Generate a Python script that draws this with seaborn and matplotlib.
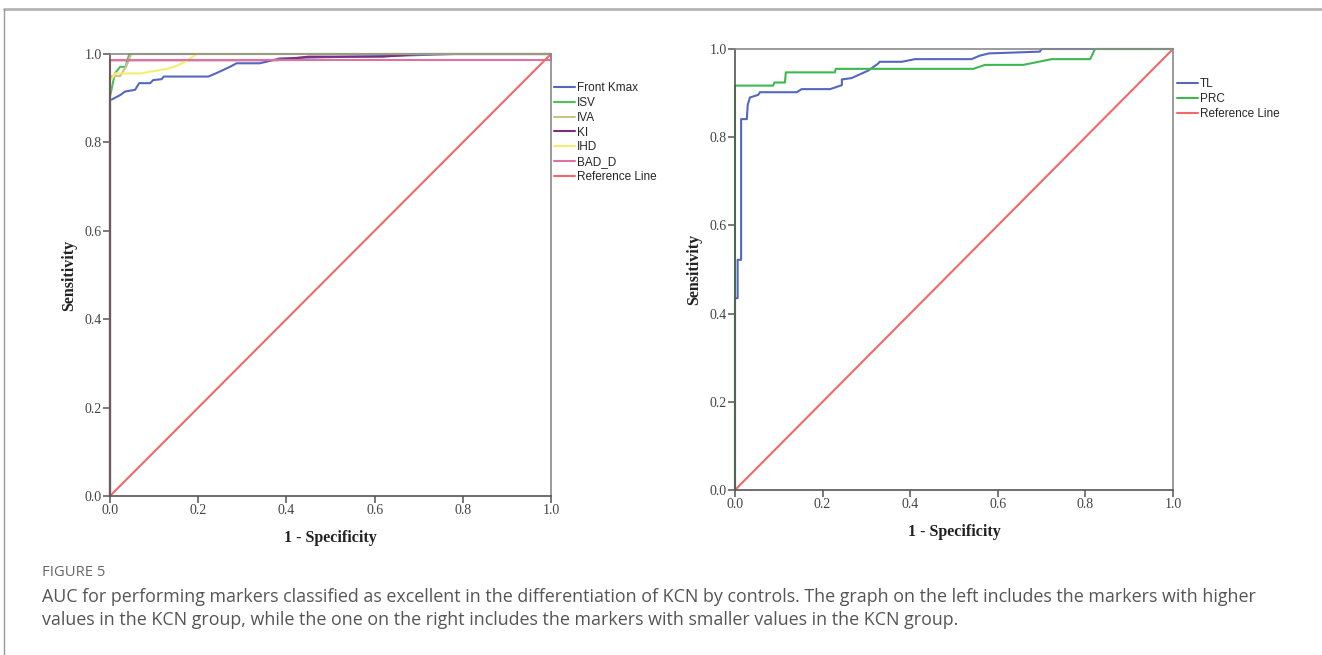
import matplotlib
matplotlib.use("Agg")
import matplotlib.pyplot as plt
from matplotlib.lines import Line2D
import seaborn as sns
import pandas as pd

# ---------------- data ----------------
# Left panel
fk_x = [0, 0, 0.004, 0.023, 0.034, 0.057, 0.066, 0.091, 0.098, 0.117, 0.122, 0.223, 0.242, 0.257, 0.272,
        0.287, 0.340, 0.385, 0.45, 0.55, 0.65, 0.78, 1.0]
fk_y = [0, 0.897, 0.897, 0.907, 0.915, 0.919, 0.934, 0.934, 0.941, 0.943, 0.949, 0.949, 0.957, 0.964, 0.971,
        0.979, 0.979, 0.990, 0.992, 0.994, 0.996, 1.0, 1.0]
isv_x = [0, 0, 0.011, 0.023, 0.036, 0.038, 0.044, 1.0]
isv_y = [0, 0.903, 0.956, 0.971, 0.971, 0.982, 1.0, 1.0]
iva_x = [0, 0, 0.004, 0.023, 0.036, 0.041, 0.048, 1.0]
iva_y = [0, 0.946, 0.950, 0.950, 0.971, 0.982, 1.0, 1.0]
ki_x = [0, 0, 0.38, 0.45, 0.62, 0.70, 1.0]
ki_y = [0, 0.986, 0.986, 0.994, 0.994, 1.0, 1.0]
ihd_x = [0, 0, 0.004, 0.011, 0.068, 0.091, 0.128, 0.151, 0.170, 0.185, 0.197, 1.0]
ihd_y = [0, 0.943, 0.943, 0.956, 0.956, 0.960, 0.966, 0.973, 0.982, 0.992, 1.0, 1.0]
bad_x = [0, 0, 1.0, 1.0]
bad_y = [0, 0.986, 0.986, 1.0]

# Right panel
tl_x = [0, 0, 0.006, 0.006, 0.014, 0.014, 0.027, 0.029, 0.034, 0.053, 0.057, 0.141, 0.152, 0.217, 0.244,
        0.244, 0.266, 0.304, 0.327, 0.330, 0.381, 0.411, 0.540, 0.559, 0.58, 0.696, 0.70, 1.0]
tl_y = [0, 0.435, 0.435, 0.522, 0.522, 0.841, 0.841, 0.873, 0.890, 0.896, 0.902, 0.902, 0.909, 0.909, 0.918,
        0.931, 0.934, 0.951, 0.967, 0.971, 0.971, 0.977, 0.977, 0.985, 0.990, 0.994, 1.0, 1.0]
prc_x = [0, 0, 0.087, 0.090, 0.114, 0.116, 0.228, 0.230, 0.544, 0.571, 0.658, 0.723, 0.811, 0.822, 1.0]
prc_y = [0, 0.917, 0.917, 0.924, 0.924, 0.947, 0.947, 0.955, 0.955, 0.964, 0.964, 0.977, 0.977, 1.0, 1.0]

ref_x = [0, 1]
ref_y = [0, 1]

left_labels = ["Front Kmax", "ISV", "IVA", "KI", "IHD", "BAD_D", "Reference Line"]
right_labels = ["TL", "PRC", "Reference Line"]
ticks = [0.0, 0.2, 0.4, 0.6, 0.8, 1.0]
tick_labels = ["0.0", "0.2", "0.4", "0.6", "0.8", "1.0"]

caption_head = "FIGURE 5"
caption_lines = [
    "AUC for performing markers classified as excellent in the differentiation of KCN by controls. The graph on the left includes the markers with higher",
    "values in the KCN group, while the one on the right includes the markers with smaller values in the KCN group.",
]

# ---------------- style ----------------
sns.set_style("white")
plt.rcParams["font.family"] = ["Liberation Sans", "DejaVu Sans"]

C_BLUE = "#5368BE"
C_GREEN = "#4CC25A"
C_IVA = "#C9C28E"
C_KI = "#7A2F7E"
C_IHD = "#F3EE70"
C_BAD = "#E0709E"
C_REF = "#F26868"

fig = plt.figure(figsize=(13.22, 6.55), dpi=100)
W, H = 1322, 655


def fx(px):
    return px / W


def fy(py):
    return 1 - py / H


axL = fig.add_axes([fx(110), fy(496), fx(551) - fx(110), fy(54) - fy(496)])
axR = fig.add_axes([fx(735), fy(490), fx(1173) - fx(735), fy(49) - fy(490)])


def draw(ax, x, y, color, label):
    df = pd.DataFrame({"x": x, "y": y})
    sns.lineplot(data=df, x="x", y="y", ax=ax, color=color, sort=False, estimator=None,
                 linewidth=1.5, clip_on=False, label=label, legend=False)


left_series = [(fk_x, fk_y, C_BLUE), (isv_x, isv_y, C_GREEN), (iva_x, iva_y, C_IVA),
               (ki_x, ki_y, C_KI), (ihd_x, ihd_y, C_IHD), (bad_x, bad_y, C_BAD), (ref_x, ref_y, C_REF)]
for (x, y, c), lab in zip(left_series, left_labels):
    draw(axL, x, y, c, lab)

right_series = [(tl_x, tl_y, C_BLUE), (prc_x, prc_y, "#3DB850"), (ref_x, ref_y, C_REF)]
for (x, y, c), lab in zip(right_series, right_labels):
    draw(axR, x, y, c, lab)

for ax in (axL, axR):
    ax.set_xlim(0, 1)
    ax.set_ylim(0, 1)
    ax.set_xticks(ticks)
    ax.set_xticklabels(tick_labels)
    ax.set_yticks(ticks)
    ax.set_yticklabels(tick_labels)
    for s in ("left", "bottom"):
        ax.spines[s].set_color("#555555")
        ax.spines[s].set_linewidth(1.2)
    for s in ("top", "right"):
        ax.spines[s].set_color("#8a8a8a")
        ax.spines[s].set_linewidth(1.2)
    ax.tick_params(axis="both", direction="out", length=5, width=1.1, color="#555555",
                   labelsize=10, labelcolor="#444444", pad=1, left=True, bottom=True)
    for lab in ax.get_xticklabels() + ax.get_yticklabels():
        lab.set_family(["Liberation Serif", "DejaVu Serif"])
    ax.set_xlabel("1 - Specificity", fontsize=11.5, fontweight="bold",
                  family=["Liberation Serif", "DejaVu Serif"], color="#222222", labelpad=9)
    ax.set_ylabel("Sensitivity", fontsize=11.5, fontweight="bold",
                  family=["Liberation Serif", "DejaVu Serif"], color="#222222", labelpad=5)
    ax.set_facecolor("white")

# legends (outside, to the right of each panel)
hL = [Line2D([0], [0], color=c, lw=1.5) for (_, _, c) in left_series]
fig.legend(hL, left_labels, loc="upper left", bbox_to_anchor=(fx(554), fy(82)),
           frameon=False, fontsize=8.5, handlelength=1.75, handletextpad=0.2,
           labelspacing=0.24, borderpad=0, borderaxespad=0)
hR = [Line2D([0], [0], color=c, lw=1.5) for (_, _, c) in right_series]
fig.legend(hR, right_labels, loc="upper left", bbox_to_anchor=(fx(1177), fy(78)),
           frameon=False, fontsize=8.5, handlelength=1.75, handletextpad=0.2,
           labelspacing=0.24, borderpad=0, borderaxespad=0)

# frame lines of the figure panel
fig.add_artist(Line2D([fx(4), 1], [fy(9), fy(9)], transform=fig.transFigure, color="#b5b5b5", lw=2))
fig.add_artist(Line2D([fx(4), fx(4)], [fy(9), 0], transform=fig.transFigure, color="#9a9a9a", lw=1))

# caption
cap_font = ["Open Sans", "DejaVu Sans"]
fig.text(fx(42), fy(573), caption_head, fontsize=10.6, color="#666666", family=cap_font, va="center")
fig.text(fx(42), fy(597), caption_lines[0], fontsize=12.9, color="#555555", family=cap_font, va="center")
fig.text(fx(42), fy(620), caption_lines[1], fontsize=12.9, color="#555555", family=cap_font, va="center")

fig.savefig("out.png", dpi=100, facecolor="white")
